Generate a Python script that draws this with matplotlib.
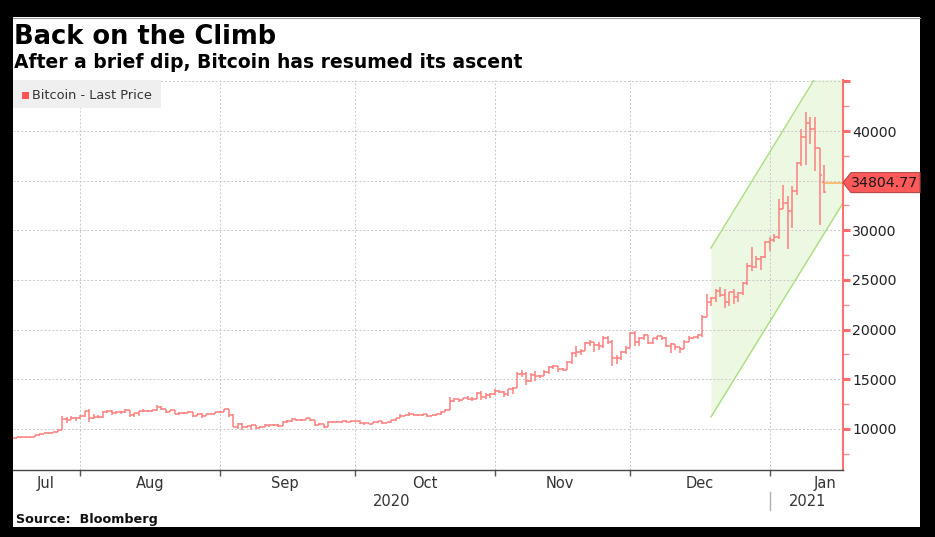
import numpy as np
import pandas as pd
import matplotlib
matplotlib.use("Agg")
import matplotlib.pyplot as plt
import matplotlib.dates as mdates
from matplotlib.patches import Rectangle, Polygon
from matplotlib.transforms import blended_transform_factory
from matplotlib.ticker import MultipleLocator, FixedLocator, NullFormatter, FuncFormatter

# ---------------- data (daily OHLC, Bitcoin, 16 Jul 2020 - 12 Jan 2021) ----------------
start_date = "2020-07-16"

opens = [
    # Jul 16-31
    9190, 9130, 9150, 9180, 9210, 9160, 9390, 9540, 9610, 9550, 9710, 9930, 11030, 10910, 11100, 11110,
    # Aug
    11320, 11800, 11070, 11230, 11190, 11750, 11770, 11600, 11750, 11680, 11880, 11410, 11580, 11780, 11770, 11860,
    11910, 12250, 11990, 11760, 11870, 11500, 11660, 11650, 11750, 11320, 11460, 11320, 11540, 11510, 11680,
    # Sep
    11680, 11970, 11410, 10250, 10510, 10170, 10280, 10370, 10130, 10240, 10360, 10400, 10440, 10330, 10680,
    10800, 10960, 10950, 10940, 11090, 10920, 10420, 10540, 10240, 10740, 10690, 10730, 10770, 10710, 10840,
    # Oct
    10780, 10620, 10570, 10550, 10670, 10790, 10600, 10670, 10920, 11060, 11300, 11380, 11560, 11430, 11430, 11500,
    11320, 11360, 11480, 11750, 11920, 12820, 12970, 12930, 13110, 13030, 13030, 13640, 13270, 13450, 13560,
    # Nov
    13780, 13740, 13550, 14030, 14130, 15580, 15570, 14830, 15480, 15330, 15300, 15700, 16280, 16320, 16070,
    15960, 16720, 17650, 17800, 17820, 18680, 18720, 18420, 18360, 19170, 18720, 17150, 17140, 17720, 18180,
    # Dec
    19630, 18800, 19200, 19450, 18700, 19150, 19360, 19170, 18320, 18550, 18260, 18060, 18800, 19170, 19270, 19430,
    21310, 22810, 23140, 23870, 23480, 22750, 23830, 23240, 23740, 24660, 26440, 26270, 27080, 27360, 28840,
    # Jan 1-12
    29000, 29370, 32130, 32780, 31970, 33990, 36820, 39370, 40800, 40250, 38240, 34900,
]

highs = [
    9210, 9180, 9200, 9240, 9220, 9420, 9540, 9640, 9620, 9730, 10000, 11300, 11200, 11340, 11170, 11450,
    11860, 12030, 11480, 11400, 11790, 11900, 11910, 11800, 11800, 12050, 11940, 11650, 11790, 12000, 11950, 11930,
    12400, 12360, 12020, 11900, 11880, 11690, 11700, 11800, 11760, 11530, 11580, 11540, 11590, 11700, 11770,
    12060, 11970, 11460, 10600, 10560, 10350, 10400, 10420, 10350, 10500, 10410, 10470, 10550, 10790, 10940,
    11070, 11000, 11030, 11140, 11090, 10950, 10570, 10550, 10760, 10760, 10800, 10800, 10930, 10860, 10850,
    10920, 10630, 10600, 10690, 10800, 10800, 10690, 10940, 11100, 11490, 11430, 11700, 11560, 11550, 11540, 11540,
    11410, 11490, 11800, 12000, 13180, 13160, 13000, 13150, 13330, 13230, 13760, 13830, 13600, 13650, 14060,
    13900, 13810, 14070, 14230, 15740, 15960, 15770, 15650, 15840, 15460, 15940, 16320, 16450, 16320, 16110,
    16860, 17790, 18390, 18100, 18780, 18950, 18740, 18770, 19390, 19400, 18920, 17420, 17850, 18310, 19750,
    19850, 19300, 19530, 19490, 19160, 19410, 19390, 19250, 18640, 18560, 18270, 18920, 19380, 19300, 19530, 21460,
    23640, 23240, 24090, 24260, 24100, 23830, 24090, 23770, 24750, 26720, 28350, 27390, 27380, 28940, 29300,
    29600, 33160, 34610, 33440, 34440, 36880, 40180, 41950, 41360, 41380, 38260, 36600,
]

lows = [
    9010, 9090, 9130, 9110, 9140, 9150, 9300, 9490, 9470, 9550, 9710, 9910, 10640, 10900, 10840, 10980,
    11230, 10660, 11020, 11070, 11100, 11600, 11400, 11560, 11560, 11600, 11200, 11250, 11320, 11700, 11700, 11730,
    11840, 11900, 11600, 11710, 11480, 11400, 11520, 11600, 11160, 11290, 11150, 11280, 11470, 11480, 11600,
    11680, 11250, 10200, 10030, 9900, 10090, 9920, 9990, 10100, 10200, 10200, 10350, 10240, 10260, 10640,
    10730, 10760, 10830, 10920, 10800, 10350, 10380, 10150, 10200, 10580, 10670, 10640, 10680, 10660, 10700,
    10540, 10400, 10500, 10530, 10620, 10540, 10570, 10560, 10850, 11060, 11290, 11310, 11300, 11320, 11280, 11230,
    11300, 11340, 11410, 11700, 11900, 12730, 12730, 12900, 12920, 12800, 13030, 12950, 12990, 13140, 13450,
    13620, 13240, 13300, 13550, 14100, 15220, 14420, 14740, 14870, 15100, 15290, 15560, 15990, 15740, 15800,
    15890, 16570, 17210, 17420, 17820, 18370, 17760, 18000, 18140, 18550, 16350, 16570, 16900, 17540, 18180,
    18360, 18350, 18970, 18590, 18590, 18930, 18930, 18260, 17650, 17950, 17620, 18020, 18760, 19010, 19050, 19300,
    21230, 22420, 22810, 23300, 22160, 22390, 22630, 22820, 23460, 24520, 25920, 26250, 25990, 27200, 27930,
    28800, 29090, 32100, 28100, 30220, 33510, 36500, 36570, 38720, 35980, 30550, 33800,
]

closes = [
    9130, 9150, 9180, 9210, 9160, 9390, 9540, 9610, 9550, 9710, 9930, 11030, 10910, 11100, 11110, 11320,
    11800, 11070, 11230, 11190, 11750, 11770, 11600, 11750, 11680, 11880, 11410, 11580, 11780, 11770, 11860, 11910,
    12250, 11990, 11760, 11870, 11500, 11660, 11650, 11750, 11320, 11460, 11320, 11540, 11510, 11680, 11680,
    11970, 11410, 10250, 10510, 10170, 10280, 10370, 10130, 10240, 10360, 10400, 10440, 10330, 10680, 10800,
    10960, 10950, 10940, 11090, 10920, 10420, 10540, 10240, 10740, 10690, 10730, 10770, 10710, 10840, 10780,
    10620, 10570, 10550, 10670, 10790, 10600, 10670, 10920, 11060, 11300, 11380, 11560, 11430, 11430, 11500, 11320,
    11360, 11480, 11750, 11920, 12820, 12970, 12930, 13110, 13030, 13030, 13640, 13270, 13450, 13560, 13780,
    13740, 13550, 14030, 14130, 15580, 15570, 14830, 15480, 15330, 15300, 15700, 16280, 16320, 16070, 15960,
    16720, 17650, 17800, 17820, 18680, 18720, 18420, 18360, 19170, 18720, 17150, 17140, 17720, 18180, 19630,
    18800, 19200, 19450, 18700, 19150, 19360, 19170, 18320, 18550, 18260, 18060, 18800, 19170, 19270, 19430, 21310,
    22810, 23140, 23870, 23480, 22750, 23830, 23240, 23740, 24660, 26440, 26270, 27080, 27360, 28840, 29000,
    29370, 32130, 32780, 31970, 33990, 36820, 39370, 40800, 40250, 38240, 35540, 33900,
]

last_price = 34804.77

# trend channel (green band)
channel_dates = ["2020-12-18 22:00", "2021-01-17 05:00"]
channel_lower = [11210, 32750]
channel_upper = [28220, 49900]

month_starts = ["2020-08-01", "2020-09-01", "2020-10-01", "2020-11-01", "2020-12-01", "2021-01-01"]
month_labels = ["Jul", "Aug", "Sep", "Oct", "Nov", "Dec", "Jan"]
month_label_dates = ["2020-07-24 10:00", "2020-08-16 12:00", "2020-09-15 12:00", "2020-10-16 12:00",
                     "2020-11-15 12:00", "2020-12-16 12:00", "2021-01-13 06:00"]
year_labels = ["2020", "2021"]
year_label_dates = ["2020-10-09 00:00", "2021-01-09 06:00"]
year_break = "2021-01-01"
y_labelled = [10000, 15000, 20000, 25000, 30000, 40000]

title = "Back on the Climb"
subtitle = "After a brief dip, Bitcoin has resumed its ascent"
legend_label = "Bitcoin - Last Price"
source = "Source:  Bloomberg"

assert len(opens) == len(highs) == len(lows) == len(closes)

# ---------------- figure ----------------
W, H = 935, 537
fig = plt.figure(figsize=(W / 100, H / 100), dpi=100, facecolor="black")
fig.add_artist(Rectangle((13 / W, 1 - 527 / H), (920 - 13) / W, (527 - 17) / H,
                         transform=fig.transFigure, facecolor="white", edgecolor="none", zorder=-10))
fig.add_artist(plt.Line2D([13 / W, 920 / W], [1 - 17.5 / H, 1 - 17.5 / H], transform=fig.transFigure,
                          color="#9a9a9a", lw=0.8, zorder=-5))

ax = fig.add_axes([13 / W, 1 - 470 / H, (843 - 13) / W, (470 - 80.5) / H])
ax.set_facecolor("white")

dates = pd.date_range(start_date, periods=len(closes), freq="D")
bar_x = mdates.date2num(dates) + 1.0   # bars drawn at end of their trading day
o = np.array(opens); h = np.array(highs); l = np.array(lows); c = np.array(closes)

bar_col = "#ff7f7f"
ax.vlines(bar_x, l, h, color=bar_col, lw=1.1, zorder=3)
ax.hlines(o, bar_x - 0.5, bar_x, color=bar_col, lw=1.1, zorder=3)
ax.hlines(c, bar_x, bar_x + 0.5, color=bar_col, lw=1.1, zorder=3)

# channel
cx = mdates.datestr2num(channel_dates)
ax.fill_between(cx, channel_lower, channel_upper, color="#ecf8e1", lw=0, zorder=0.3)
ax.plot(cx, channel_lower, color="#a9df7f", lw=1.0, zorder=0.6)
ax.plot(cx, channel_upper, color="#a9df7f", lw=1.0, zorder=0.6)

# last price line
x_end = mdates.datestr2num("2021-01-17 05:00")
ax.plot([bar_x[-1] + 0.5, x_end], [last_price, last_price], color="#f7be72", lw=1.4, zorder=2.5)

# axes limits
ax.set_xlim(mdates.datestr2num("2020-07-17 03:00"), x_end)
ax.set_ylim(5872, 45084)

# ticks
ms = mdates.datestr2num(month_starts)
ax.xaxis.set_major_locator(FixedLocator(ms))
ax.xaxis.set_major_formatter(NullFormatter())
ax.xaxis.set_minor_locator(FixedLocator(mdates.datestr2num(month_label_dates)))
ax.xaxis.set_minor_formatter(plt.FixedFormatter(month_labels))
ax.tick_params(axis="x", which="major", length=4, width=1, color="#555555", direction="out")
ax.tick_params(axis="x", which="minor", length=0, pad=4, labelsize=10.5, labelcolor="#333333")

ax.yaxis.tick_right()
ax.yaxis.set_major_locator(MultipleLocator(5000))
ax.yaxis.set_minor_locator(MultipleLocator(2500))
ax.yaxis.set_major_formatter(FuncFormatter(lambda v, p: f"{int(round(v))}" if int(round(v)) in y_labelled else ""))
ax.tick_params(axis="y", which="major", length=5, width=2.2, color="#ff6b6b", direction="out",
               pad=1.5, labelsize=10.2, labelcolor="#222222")
ax.tick_params(axis="y", which="minor", length=4, width=1, color="#ff8a8a", direction="out")

ax.set_axisbelow(True)
ax.grid(True, which="major", axis="both", color="#c8c8c8", lw=0.7, linestyle=(0, (2, 2)))

for s in ["left", "top"]:
    ax.spines[s].set_visible(False)
ax.spines["right"].set_color("#ff7070")
ax.spines["right"].set_linewidth(1.5)
ax.spines["bottom"].set_color("#444444")
ax.spines["bottom"].set_linewidth(1.0)

# year labels and separator
bt = blended_transform_factory(ax.transData, ax.transAxes)
for lab, d in zip(year_labels, year_label_dates):
    ax.text(mdates.datestr2num(d), (470 - 501) / 389.5, lab, transform=bt, ha="center", va="center",
            fontsize=10.5, color="#333333")
yb = mdates.datestr2num(year_break)
ax.plot([yb, yb], [(470 - 492) / 389.5, (470 - 510) / 389.5], transform=bt, color="#b0b0b0",
        lw=1, clip_on=False)

# legend box
ax.add_patch(Rectangle((0, (470 - 108) / 389.5), (160.5 - 13) / 830, (108 - 80.5) / 389.5,
                       transform=ax.transAxes, facecolor="#efefef", edgecolor="none", zorder=4))
ax.add_patch(Rectangle(((21.7 - 13) / 830, (470 - 99.5) / 389.5), 7.5 / 830, 7.5 / 389.5,
                       transform=ax.transAxes, facecolor="#ff5555", edgecolor="none", zorder=5))
ax.text((32 - 13) / 830, (470 - 95.5) / 389.5, legend_label, transform=ax.transAxes, ha="left",
        va="center", fontsize=9.3, color="#333333", zorder=6)

# last price tag (pentagon)
bx = blended_transform_factory(ax.transAxes, ax.transData)
hh = 10 / 389.5 * (45084 - 5872)
tip = 1.0
p1 = 1.0 + 8 / 830
p2 = 1.0 + (920 - 843) / 830
tag = Polygon([(tip, last_price), (p1, last_price + hh), (p2, last_price + hh),
               (p2, last_price - hh), (p1, last_price - hh)], closed=True, transform=bx,
              facecolor="#ff5a5a", edgecolor="#b54848", lw=0.8, clip_on=False, zorder=6)
ax.add_patch(tag)
ax.text(1.0 + (851 - 843) / 830, last_price, f"{last_price:.2f}", transform=bx, ha="left", va="center",
        fontsize=10.2, color="#1a1a1a", zorder=7, clip_on=False)

# titles
fig.text(13.5 / W, 1 - 37 / H, title, ha="left", va="center", fontsize=18.5, fontweight="bold", color="black")
fig.text(13.5 / W, 1 - 62.5 / H, subtitle, ha="left", va="center", fontsize=13.5, fontweight="bold", color="black")
fig.text(16.5 / W, 1 - 520 / H, source, ha="left", va="center", fontsize=9.2, fontweight="bold", color="#111111")

fig.savefig("out.png", dpi=100, facecolor="black")
